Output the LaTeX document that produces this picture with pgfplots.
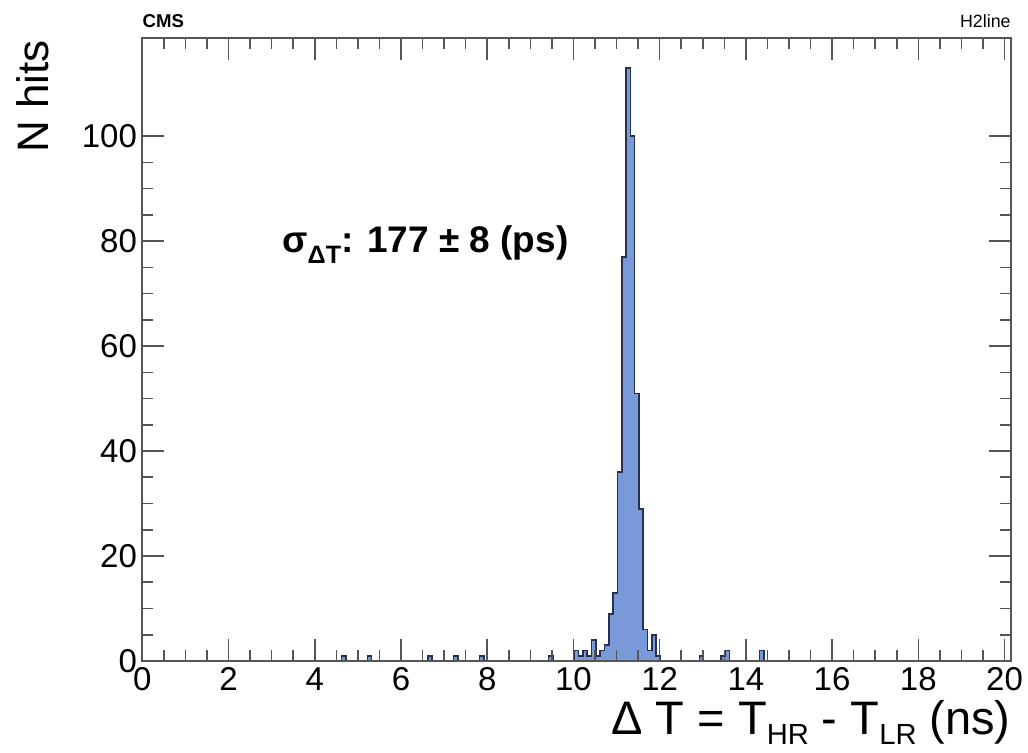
\documentclass[border=0pt]{standalone}
\usepackage{fontspec}
\setmainfont{Liberation Sans}
\usepackage{graphicx}
\usepackage{pgfplots}
\pgfplotsset{compat=1.18}

\definecolor{histfill}{RGB}{122,153,216}
\definecolor{histline}{RGB}{40,48,80}
\definecolor{axisgray}{RGB}{85,85,85}

\newcommand\sub[1]{\raisebox{-0.2em}{\scalebox{0.62}{#1}}}

\begin{document}
\begin{tikzpicture}
\path[use as bounding box] (0,0) rectangle (514pt,376.5pt);
\begin{axis}[
    at={(71.15pt,46pt)}, anchor=south west,
    scale only axis,
    width=434.35pt, height=311.5pt,
    xmin=0, xmax=20.15,
    ymin=0, ymax=118.7,
    xtick={0,2,...,20},
    ytick={0,20,...,100},
    minor x tick num=3,
    minor y tick num=3,
    tick align=inside,
    xtick pos=both, ytick pos=both,
    major tick length=11pt,
    minor tick length=5.5pt,
    axis line style={axisgray, line width=1pt},
    every tick/.style={axisgray, line width=0.8pt},
    /pgf/number format/assume math mode=true,
    x tick label style={font=\fontsize{16.5}{18}\selectfont, inner sep=0pt, yshift=-3pt},
    y tick label style={font=\fontsize{16.5}{18}\selectfont, inner sep=0pt, xshift=-2.5pt},
    axis on top,
    clip=false,
]

% histogram, bins of 0.1 ns (left edges)
\addplot[const plot, draw=histline, line width=0.8pt, fill=histfill]
coordinates {
    (0.02,0) (4.62,1) (4.72,0) (5.22,1) (5.32,0) (6.62,1) (6.72,0)
    (7.22,1) (7.32,0) (7.82,1) (7.92,0) (9.42,1) (9.52,0)
    (10.02,2) (10.12,1) (10.22,2) (10.32,1) (10.42,4) (10.52,1)
    (10.62,2) (10.72,3) (10.82,9) (10.92,13) (11.02,36) (11.12,77)
    (11.22,113) (11.32,100) (11.42,51) (11.52,29) (11.62,6) (11.72,2)
    (11.82,5) (11.92,1) (12.02,0) (12.92,1) (13.02,0) (13.42,1)
    (13.52,2) (13.62,0) (14.32,2) (14.42,0) (20.1,0)
} \closedcycle;

\node[anchor=base west, inner sep=0pt, font=\fontsize{18.5}{20}\selectfont\bfseries]
    at (axis cs:3.24,77.9) {σ\raisebox{-0.32em}{\scalebox{0.68}{ΔT}}: 177 ± 8 (ps)};

\node[anchor=base west, inner sep=0pt, font=\fontsize{9.3}{10}\selectfont\bfseries]
    at ([yshift=5pt]rel axis cs:0,1) {CMS};
\node[anchor=base east, inner sep=0pt, font=\fontsize{8.9}{10}\selectfont]
    at ([yshift=5pt]rel axis cs:1,1) {H2line};

\node[anchor=base east, inner sep=0pt, font=\fontsize{23.5}{25}\selectfont]
    at ([yshift=-37pt]rel axis cs:1,0) {Δ T = T\sub{HR} - T\sub{LR} (ns)};
\node[anchor=base east, inner sep=0pt, rotate=90, font=\fontsize{22}{24}\selectfont]
    at ([xshift=-47pt, yshift=-1pt]rel axis cs:0,1) {N hits};

\end{axis}
\end{tikzpicture}
\end{document}
